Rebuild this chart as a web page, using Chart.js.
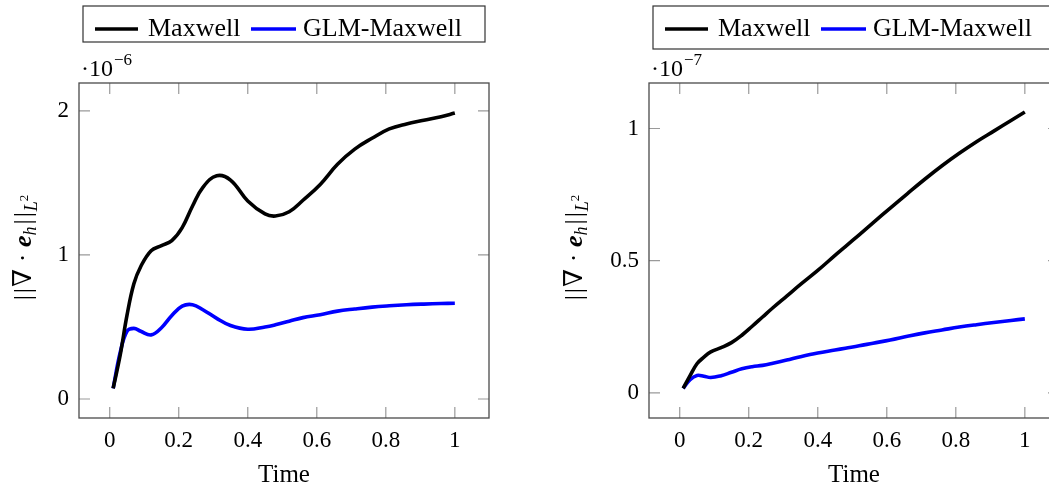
<!DOCTYPE html>
<html><head><meta charset="utf-8">
<script src="https://cdn.jsdelivr.net/npm/chart.js@4/dist/chart.umd.min.js"></script>
<style>
html,body{margin:0;padding:0;background:#fff;overflow:hidden;width:1049px;height:488px;position:relative;}
#c1{position:absolute;left:0;top:0;}
#c2{position:absolute;left:560px;top:0;}
</style></head><body>
<canvas id="c1" width="540" height="488"></canvas>
<canvas id="c2" width="540" height="488"></canvas>
<script>
// ---- data (values in units of the axis multiplier) ----
const TIME = [0.01,0.03,0.05,0.07,0.09,0.12,0.15,0.18,0.21,0.24,0.27,0.31,0.35,0.40,0.45,0.48,0.52,0.56,0.61,0.66,0.71,0.76,0.81,0.86,0.91,0.96,1.00];
const LEFT_MAXWELL = [0.074,0.30,0.58,0.80,0.92,1.03,1.065,1.10,1.19,1.34,1.47,1.55,1.52,1.375,1.285,1.27,1.30,1.38,1.49,1.63,1.735,1.81,1.875,1.91,1.935,1.96,1.985];
const LEFT_GLM = [0.074,0.32,0.47,0.49,0.47,0.445,0.495,0.58,0.645,0.655,0.62,0.56,0.51,0.484,0.50,0.515,0.54,0.565,0.585,0.61,0.625,0.638,0.647,0.654,0.659,0.663,0.665];
const RIGHT_MAXWELL = [0.017,0.065,0.11,0.135,0.155,0.171,0.19,0.218,0.252,0.287,0.322,0.366,0.41,0.463,0.52,0.553,0.598,0.643,0.699,0.754,0.808,0.859,0.906,0.95,0.99,1.03,1.062];
const RIGHT_GLM = [0.017,0.05,0.066,0.063,0.058,0.065,0.078,0.091,0.099,0.104,0.112,0.124,0.137,0.151,0.162,0.169,0.178,0.188,0.20,0.214,0.227,0.238,0.249,0.258,0.266,0.274,0.28];

const X_TICKS = [0,0.2,0.4,0.6,0.8,1];
const X_TICK_LABELS = ['0','0.2','0.4','0.6','0.8','1'];
const LEFT_Y_TICKS = [0,1,2];
const LEFT_Y_TICK_LABELS = ['0','1','2'];
const RIGHT_Y_TICKS = [0,0.5,1];
const RIGHT_Y_TICK_LABELS = ['0','0.5','1'];
const SERIES_NAMES = ['Maxwell','GLM-Maxwell'];
const SERIES_COLORS = ['#000000','#0000ff'];
const X_TITLE = 'Time';
const LEFT_EXPONENT = '−6';
const RIGHT_EXPONENT = '−7';

const FONT = "'Liberation Serif', 'DejaVu Serif', serif";
const TL = 11;

const decor = {
  id: 'decor',
  afterDraw(chart, args, opts) {
    const ctx = chart.ctx, a = chart.chartArea;
    const xs = chart.scales.x, ys = chart.scales.y;
    ctx.save();
    // inward tick marks on all four sides
    ctx.strokeStyle = '#9a9a9a'; ctx.lineWidth = 1.2;
    ctx.beginPath();
    X_TICKS.forEach(v => {
      const px = xs.getPixelForValue(v);
      ctx.moveTo(px, a.top); ctx.lineTo(px, a.top + TL);
      ctx.moveTo(px, a.bottom); ctx.lineTo(px, a.bottom - TL);
    });
    opts.yTicks.forEach(v => {
      const py = ys.getPixelForValue(v);
      ctx.moveTo(a.left, py); ctx.lineTo(a.left + TL, py);
      ctx.moveTo(a.right, py); ctx.lineTo(a.right - TL, py);
    });
    ctx.stroke();
    // frame
    ctx.strokeStyle = '#4a4a4a'; ctx.lineWidth = 1.3;
    ctx.strokeRect(a.left, a.top, a.right - a.left, a.bottom - a.top);

    // exponent label
    ctx.fillStyle = '#000'; ctx.textBaseline = 'alphabetic'; ctx.textAlign = 'left';
    ctx.font = '24px ' + FONT;
    const ex = a.left + 2;
    ctx.fillText('·10', ex, 76);
    const w10 = ctx.measureText('·10').width;
    ctx.font = '17px ' + FONT;
    ctx.fillText(opts.exponent, ex + w10 + 1, 65);

    // legend box
    const bl = a.left + 4, br = a.right - 4, bt = 6, bb = opts.legendBottom;
    ctx.fillStyle = '#fff';
    ctx.fillRect(bl, bt, br - bl, bb - bt);
    ctx.strokeStyle = '#333'; ctx.lineWidth = 1.2;
    ctx.strokeRect(bl, bt, br - bl, bb - bt);
    const ly = 29;
    const entries = [
      {x1: 12, x2: 55, tx: 65, i: 0},
      {x1: 168, x2: 213, tx: 220, i: 1}
    ];
    ctx.font = '26px ' + FONT;
    entries.forEach(e => {
      ctx.strokeStyle = SERIES_COLORS[e.i]; ctx.lineWidth = 3.5;
      ctx.beginPath(); ctx.moveTo(bl + e.x1, ly); ctx.lineTo(bl + e.x2, ly); ctx.stroke();
      ctx.fillStyle = '#000';
      ctx.fillText(SERIES_NAMES[e.i], bl + e.tx, 36);
    });

    // y axis label (rotated)
    const parts = [
      {t: '|', f: '26px ' + FONT, dy: 0, gap: 2},
      {t: '|', f: '26px ' + FONT, dy: 0, gap: 1},
      {t: '∇ · ', f: '26px ' + FONT, dy: 0, gap: 0},
      {t: 'e', f: 'italic bold 26px ' + FONT, dy: 0, gap: 0},
      {t: 'h', f: 'italic 18px ' + FONT, dy: 5, gap: 2},
      {t: '|', f: '26px ' + FONT, dy: 0, gap: 2},
      {t: '|', f: '26px ' + FONT, dy: 0, gap: 1},
      {t: 'L', f: 'italic 18px ' + FONT, dy: 6, gap: 0},
      {t: '2', f: '13px ' + FONT, dy: -3, gap: 0}
    ];
    let total = 0;
    parts.forEach(p => { ctx.font = p.f; p.w = ctx.measureText(p.t).width; total += p.w + p.gap; });
    ctx.translate(opts.ylabelX, (a.top + a.bottom) / 2 - 3);
    ctx.rotate(-Math.PI / 2);
    let cx = -total / 2;
    ctx.fillStyle = '#000';
    parts.forEach(p => { ctx.font = p.f; ctx.fillText(p.t, cx, p.dy); cx += p.w + p.gap; });
    ctx.restore();
  }
};

function makeChart(id, maxw, glm, yMin, yMax, yTicks, yTickLabels, exponent, yAxisWidth, padRight, ylabelX, legendBottom) {
  const series = [maxw, glm];
  return new Chart(document.getElementById(id), {
    type: 'line',
    data: {
      datasets: series.map((vals, k) => ({
        label: SERIES_NAMES[k],
        data: TIME.map((t, i) => ({x: t, y: vals[i]})),
        borderColor: SERIES_COLORS[k],
        borderWidth: 3.6,
        pointRadius: 0,
        fill: false,
        tension: 0.4,
        borderCapStyle: 'butt',
        borderJoinStyle: 'round'
      }))
    },
    options: {
      responsive: false, animation: false, devicePixelRatio: 1,
      layout: {padding: {top: 83, right: padRight, bottom: 0, left: 0}},
      plugins: {
        legend: {display: false}, tooltip: {enabled: false},
        decor: {yTicks: yTicks, exponent: exponent, ylabelX: ylabelX, legendBottom: legendBottom}
      },
      scales: {
        x: {
          type: 'linear', min: -0.089, max: 1.099,
          grid: {display: false, drawTicks: false}, border: {display: false},
          afterBuildTicks: s => { s.ticks = X_TICKS.map(v => ({value: v})); },
          ticks: {font: {family: FONT, size: 23}, color: '#000', padding: 9, maxRotation: 0, autoSkip: false,
                  callback: (v, i) => X_TICK_LABELS[i]},
          title: {display: true, text: X_TITLE, color: '#000', font: {family: FONT, size: 25, lineHeight: 1}, padding: {top: 0, bottom: 0}},
          afterFit: s => { s.height = 70; }
        },
        y: {
          type: 'linear', min: yMin, max: yMax,
          grid: {display: false, drawTicks: false}, border: {display: false},
          afterBuildTicks: s => { s.ticks = yTicks.map(v => ({value: v})); },
          ticks: {font: {family: FONT, size: 23}, color: '#000', padding: 10, autoSkip: false,
                  callback: (v, i) => yTickLabels[i]},
          afterFit: s => { s.width = yAxisWidth; }
        }
      }
    },
    plugins: [decor]
  });
}

makeChart('c1', LEFT_MAXWELL, LEFT_GLM, -0.132, 2.194, LEFT_Y_TICKS, LEFT_Y_TICK_LABELS, LEFT_EXPONENT, 79, 51, 31, 42);
makeChart('c2', RIGHT_MAXWELL, RIGHT_GLM, -0.095, 1.172, RIGHT_Y_TICKS, RIGHT_Y_TICK_LABELS, RIGHT_EXPONENT, 89, 41, 22, 49);
</script>
</body></html>
